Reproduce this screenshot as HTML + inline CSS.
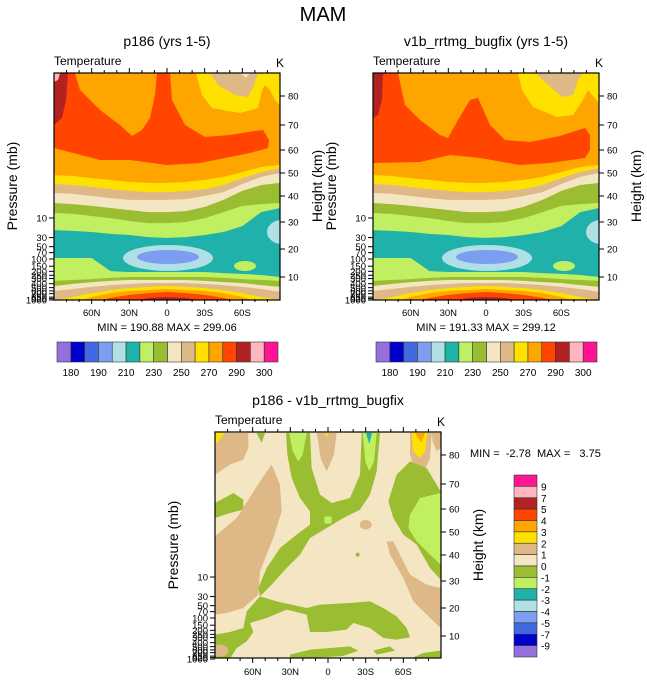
<!DOCTYPE html>
<html><head><meta charset="utf-8"><style>
body{margin:0;background:#fff;}
svg{display:block;font-family:"Liberation Sans",Arial,sans-serif;}
</style></head><body>
<svg id="chart" width="647" height="683" viewBox="0 0 647 683" xmlns="http://www.w3.org/2000/svg">
<defs>
<clipPath id="clipL"><rect x="54" y="73" width="226" height="227"/></clipPath>
<clipPath id="clipR"><rect x="373" y="73" width="226" height="227"/></clipPath>
<clipPath id="clipB"><rect x="215" y="432" width="226" height="226"/></clipPath>
</defs>
<text x="323" y="21" font-size="20" text-anchor="middle">MAM</text>
<g id="panels"></g>
<!-- difference panel contours -->
<g clip-path="url(#clipB)">
<rect x="215" y="432" width="226" height="226" fill="#F5E6C3"/>
<g transform="translate(210,428) scale(0.33333)">
<polygon fill="#DEB887" points="15,15 115,15 115,60 100,95 60,110 15,140"/>
<polygon fill="#FFE100" points="15,15 45,15 25,40 15,50"/>
<polygon fill="#9ABD32" points="140,15 165,15 155,45"/>
<polygon fill="#9ABD32" points="15,225 70,195 100,215 100,245 60,255 15,270"/>
<polygon fill="#DEB887" points="15,325 80,270 150,160 185,110 210,170 215,250 190,330 150,430 145,500 100,540 50,555 15,560"/>
<polygon fill="#9ABD32" points="228,15 300,15 305,120 330,200 365,225 420,210 450,140 455,15 510,15 500,130 480,200 450,245 400,270 350,300 300,330 270,380 230,420 185,470 150,505 145,480 170,420 210,360 260,320 300,290 300,250 270,210 245,150 232,80"/>
<polygon fill="#C0EF62" points="238,15 290,15 278,80 265,100 248,70"/>
<polygon fill="#C0EF62" points="458,15 500,15 492,100 478,130 466,100"/>
<polygon fill="#20B2AA" points="468,15 486,15 478,48"/>
<polygon fill="#DEB887" points="320,15 380,15 372,80 350,130 333,95"/>
<polygon fill="#FFE100" points="343,15 356,15 350,28"/>
<rect x="343" y="265" width="22" height="22" rx="5" fill="#C0EF62"/>
<polygon fill="#DEB887" points="600,15 665,15 660,90 640,135 615,130 600,80"/>
<polygon fill="#FFE100" points="605,15 652,15 645,70 628,90 610,70"/>
<polygon fill="#FFA500" points="615,15 645,15 635,45"/>
<polygon fill="#DEB887" points="665,15 692,15 692,60 680,70 668,40"/>
<polygon fill="#9ABD32" points="560,140 600,100 650,120 692,190 692,455 660,420 620,350 580,320 550,270 535,220"/>
<polygon fill="#C0EF62" points="600,260 630,210 692,195 692,410 660,380 620,340 595,300"/>
<polygon fill="#DEB887" points="530,340 550,340 580,400 600,440 650,470 692,480 692,600 650,560 610,520 580,450 540,380"/>
<ellipse cx="467" cy="290" rx="18" ry="14" fill="#DEB887"/>
<circle cx="443" cy="380" r="6" fill="#9ABD32"/>
<polygon fill="#9ABD32" points="15,620 60,612 100,600 110,550 150,505 200,520 290,540 330,530 420,525 480,520 520,540 560,565 590,600 600,628 560,635 520,630 480,600 430,585 410,605 350,612 300,612 290,560 230,545 170,570 120,585 130,612 110,640 80,660 60,692 15,692"/>
<ellipse cx="30" cy="668" rx="25" ry="18" fill="#DEB887"/>
<polygon fill="#9ABD32" points="240,680 300,665 420,655 445,668 400,684 300,690 240,692"/>
<polygon fill="#9ABD32" points="490,668 540,655 555,668 500,680"/>
<polygon fill="#9ABD32" points="610,688 640,675 690,668 692,692 610,692"/>
</g>
</g>
<g id="bottom-axes"></g>
<text x="328" y="405" font-size="14" text-anchor="middle">p186 - v1b_rrtmg_bugfix</text>
<text x="470" y="457" font-size="11" xml:space="preserve">MIN =  -2.78  MAX =   3.75</text>
<g id="vbar"></g>
</svg>
<script>
const NS='http://www.w3.org/2000/svg';
const svg=document.getElementById('chart');
// colour levels
const tempLevelLabels=['180','190','210','230','250','270','290','300'];
const diffLevelLabels=['9','7','5','4','3','2','1','0','-1','-2','-3','-4','-5','-7','-9'];
const palette=['#9370DB','#0000CD','#4169E1','#7B9EF0','#B0E0E6','#20B2AA','#C0EF62','#9ABD32','#F5E6C3','#DEB887','#FFE100','#FFA500','#FF4500','#B22222','#FFB6C1','#FF1493'];
// latitudes for contour boundaries
const lats=[90,75,60,45,30,15,0,-15,-30,-45,-60,-75,-90];
// band boundary heights (km) at each latitude
const yellowTop=[49.1,48.7,47.8,47.0,46.1,45.7,45.7,46.1,47.0,48.3,50.4,52.6,53.5];
const tanTop=[45.2,44.8,43.9,43.0,42.2,41.7,41.7,42.2,43.0,44.8,47.8,50.4,52.2];
const creamTop=[41.3,40.9,40.0,39.2,38.5,38.5,38.5,38.8,40.0,41.7,45.2,48.3,50.0];
const greenTop=[37.3,36.9,36.2,35.4,34.6,33.8,33.8,34.2,35.8,38.5,42.2,44.8,45.7];
const lightGreenTop=[33.5,33.1,32.3,31.5,30.4,29.6,29.6,30.0,31.5,33.8,36.2,36.9,37.3];
const tealTop=[27.0,26.7,26.3,25.6,25.2,24.4,24.1,24.4,25.2,26.3,28.5,33.8,35.4];
const lowLightGreenTop=[16.8,16.8,16.8,12.1,11.8,11.8,11.8,11.8,11.8,11.4,11.1,10.7,10.0];
const lowGreenTop=[8.3,8.7,9.1,9.6,10,10,10,10,10,9.6,9.1,8.7,8.3];
const lowCreamTop=[6.1,7.0,7.8,8.3,8.7,8.7,8.7,8.7,8.3,7.8,7.4,6.5,5.7];
const lowTanTop=[3.9,4.8,5.7,6.5,7.0,7.4,7.4,7.4,7.0,6.5,5.7,4.8,3.5];
const lowYellowTop=[0,1.3,3.0,4.3,5.2,5.7,6.1,5.7,5.2,4.3,3.0,1.3,0];
const lowOrangeTop=[-1,-1,1.3,3.0,3.9,4.3,4.8,4.3,3.9,3.0,1.3,-1,-1];
const lowRedTop=[-1,-1,-1,0.9,2.2,3.0,3.5,3.0,2.2,0.9,-1,-1,-1];
const lowDarkRedTop=[-1,-1,-1,-1,-1,0.9,1.3,0.9,-1,-1,-1,-1,-1];
const heightTicks=[10,20,30,40,50,60,70,80];
const pressureTicks=[10,30,50,70,100,150,200,250,300,400,500,600,700,850,925,1000];
const latTicks=[60,30,0,-30,-60];
const latTickLabels=['60N','30N','0','30S','60S'];
// height scale anchors
const kmAnchor=[-2,0,10,20,30,40,50,60,70,80,88];
const pxAnchor=[232,227,204,176,149,123,100,77,52,23,0];
function yKm(km,top){for(let i=0;i<kmAnchor.length-1;i++){if(km<=kmAnchor[i+1]){const t=(km-kmAnchor[i])/(kmAnchor[i+1]-kmAnchor[i]);return top+pxAnchor[i]+t*(pxAnchor[i+1]-pxAnchor[i]);}}return top;}
function xLat(lat,left){return left+(90-lat)/180*226;}
function yP(p,top){return top+145+41*Math.log10(p/10);}
function el(tag,attrs,parent){const e=document.createElementNS(NS,tag);for(const k in attrs)e.setAttribute(k,attrs[k]);(parent||svg).appendChild(e);return e;}
function txt(s,attrs,parent){const e=el('text',attrs,parent);e.textContent=s;return e;}

const bands=[[yellowTop,'#FFE100'],[tanTop,'#DEB887'],[creamTop,'#F5E6C3'],[greenTop,'#9ABD32'],[lightGreenTop,'#C0EF62'],[tealTop,'#20B2AA'],['blobs'],[lowLightGreenTop,'#C0EF62'],[lowGreenTop,'#9ABD32'],[lowCreamTop,'#F5E6C3'],[lowTanTop,'#DEB887'],[lowYellowTop,'#FFE100'],[lowOrangeTop,'#FFA500'],[lowRedTop,'#FF4500'],[lowDarkRedTop,'#B22222']];

function poly(pts,fill,g){const e=el('polygon',{points:pts.map(p=>p.join(',')).join(' '),fill:fill},g);return e;}

function drawAxes(g,left,top,bottomLabels){
  const right=left+226,bottom=top+226;
  el('rect',{x:left,y:top,width:226,height:bottom-top+(top===73?1:0),fill:'none',stroke:'#000','stroke-width':1.2},g);
  for(let lat=80;lat>=-80;lat-=10){
    const x=xLat(lat,left);const major=lat%30===0;const L=major?5:3;
    const t1=el('line',{x1:x,x2:x,y1:bottom,y2:bottom+L,stroke:'#000'},g);
    
    const t2=el('line',{x1:x,x2:x,y1:top,y2:top-L,stroke:'#000'},g);
    
  }
  latTicks.forEach((lat,i)=>{const t=txt(latTickLabels[i],{x:xLat(lat,left),y:bottom+17,'font-size':9.5,'text-anchor':'middle'},g);
    });
  heightTicks.forEach(h=>{const y=yKm(h,top);el('line',{x1:right,x2:right+5,y1:y,y2:y,stroke:'#000'},g);
    const t=txt(String(h),{x:right+8,y:y+3.5,'font-size':9.5},g);});
  pressureTicks.forEach(p=>{const y=yP(p,top);el('line',{x1:left,x2:left-5,y1:y,y2:y,stroke:'#000'},g);
    const t=txt(String(p),{x:left-7,y:y+3.5,'font-size':9.5,'text-anchor':'end'},g);});
  const a=txt('Temperature',{x:left,y:top-8,'font-size':12},g);
  const k=txt('K',{x:right-4,y:top-6,'font-size':12},g);
  const pl=txt('Pressure (mb)',{x:0,y:0,'font-size':14,'text-anchor':'middle',transform:`translate(${left-37},${top+113}) rotate(-90)`},g);
  
  const hl=txt('Height (km)',{x:0,y:0,'font-size':14,'text-anchor':'middle',transform:`translate(${right+42},${top+113}) rotate(-90)`},g);
  
}

function drawPanel(left,top,clip,title,minmax,variant){
  const g=el('g',{},document.getElementById('panels'));
  
  
  const c=el('g',{'clip-path':`url(#${clip})`},g);
  
  el('rect',{x:left,y:top,width:226,height:227,fill:'#FFA500'},c);
  const o=(pts)=>pts.map(p=>[p[0]-54+left,p[1]-73+top]);
  if(variant==='a'){
    poly(o([[54,73],[75,73],[80,90],[100,110],[120,125],[132,136],[142,130],[150,118],[155,95],[157,73],[170,73],[172,100],[185,125],[205,137],[230,135],[255,131],[263,130],[269,140],[268,148],[250,153],[200,163],[167,165],[130,160],[100,160],[54,148]]),'#FF4500',c);
    poly(o([[54,73],[68,73],[66,100],[62,118],[54,125]]),'#B22222',c);
    poly(o([[54,73],[60,73],[58,80],[54,82]]),'#FFB6C1',c);
    poly(o([[196,73],[202,95],[212,108],[240,113],[258,108],[262,90],[265,85],[270,90],[275,100],[280,105],[280,73]]),'#FFE100',c);
    poly(o([[210,73],[218,85],[235,95],[248,97],[254,85],[258,73]]),'#DEB887',c);
    poly(o([[240,73],[250,73],[246,78]]),'#F5E6C3',c);
  } else {
    const q=(pts)=>pts.map(p=>[p[0]-373+left,p[1]-73+top]);
    poly(q([[373,73],[398,73],[405,105],[420,120],[440,135],[448,138],[458,120],[470,100],[478,98],[490,125],[505,140],[530,142],[560,136],[585,128],[590,135],[590,150],[585,158],[550,163],[520,165],[480,158],[450,155],[420,162],[373,163]]),'#FF4500',c);
    poly(q([[373,73],[383,73],[382,100],[378,115],[373,118]]),'#B22222',c);
    poly(q([[518,73],[522,90],[533,107],[557,117],[573,115],[583,100],[588,90],[598,102],[599,105],[599,73]]),'#FFE100',c);
    poly(q([[535,73],[545,82],[562,97],[573,95],[578,80],[582,73]]),'#DEB887',c);
  }
  bands.forEach(b=>{
    if(b[0]==='blobs'){
      const e1=el('ellipse',{cx:left+114,cy:top+185,rx:45,ry:13,fill:'#B0E0E6'},c);
      const e2=el('ellipse',{cx:left+114,cy:top+184,rx:31,ry:7,fill:'#7B9EF0'},c);
      const e3=el('ellipse',{cx:left+228,cy:top+159,rx:15,ry:12,fill:'#B0E0E6'},c);
      const e4=el('ellipse',{cx:left+191,cy:top+193,rx:11,ry:5,fill:'#C0EF62'},c);
      return;
    }
    const arr=b[0];
    let d='M'+left+','+(top+240);
    lats.forEach((lat,i)=>{d+=' L'+xLat(lat,left).toFixed(1)+','+yKm(arr[i],top).toFixed(1);});
    d+=' L'+(left+226)+','+(top+240)+' Z';
    const p=el('path',{d:d,fill:b[1]},c);
    
    
  });
  drawAxes(g,left,top);
  const t=txt(title,{x:left+113,y:top-27,'font-size':14,'text-anchor':'middle'},g);
  
  const m=txt(minmax,{x:left+113,y:top+258,'font-size':11,'text-anchor':'middle'},g);
  
  // horizontal colorbar
  const cb=el('g',{},g);
  
  
  const bw=221/palette.length;
  palette.forEach((col,i)=>{const r=el('rect',{x:left+3+i*bw,y:top+269,width:bw,height:20,fill:col,stroke:'#333','stroke-width':0.6},cb);
    });
  tempLevelLabels.forEach((s,i)=>{const k=i<7?2*i+1:15;const tt=txt(s,{x:left+3+k*bw,y:top+303,'font-size':10,'text-anchor':'middle'},cb);
    });
}
drawPanel(54,73,'clipL','p186 (yrs 1-5)','MIN = 190.88  MAX = 299.06','a');
drawPanel(373,73,'clipR','v1b_rrtmg_bugfix (yrs 1-5)','MIN = 191.33  MAX = 299.12','b');
const bg=document.getElementById('bottom-axes');


drawAxes(bg,215,432);
// vertical colorbar
const vb=document.getElementById('vbar');


const bh=182/palette.length;
palette.slice().reverse().forEach((col,i)=>{const r=el('rect',{x:514,y:475+i*bh,width:23,height:bh,fill:col,stroke:'#333','stroke-width':0.6},vb);
  });
diffLevelLabels.forEach((s,i)=>{const t=txt(s,{x:541,y:475+(i+1)*bh+4,'font-size':10},vb);
  });
</script>
</body></html>
